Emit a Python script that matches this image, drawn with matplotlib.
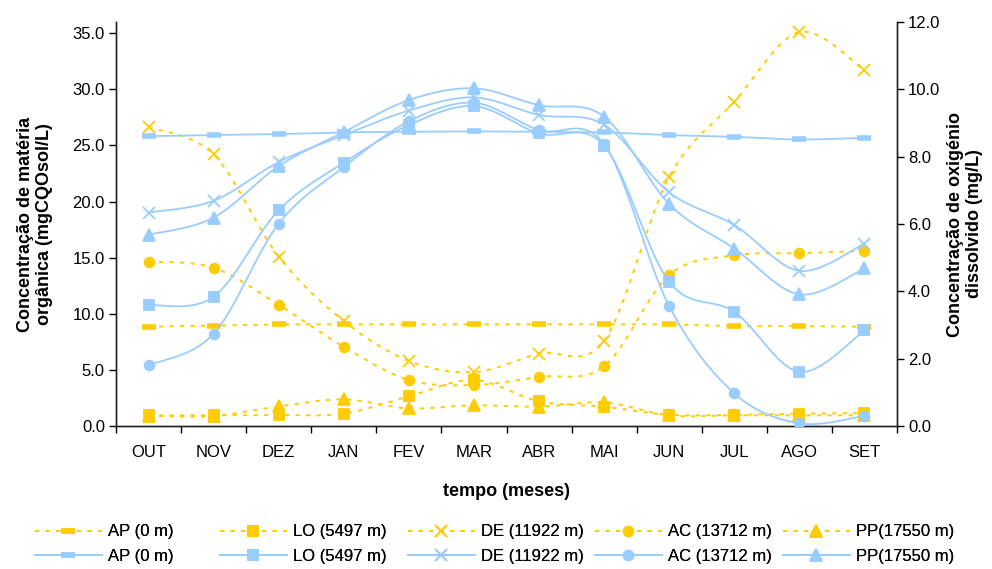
import numpy as np
import matplotlib
matplotlib.use("Agg")
import matplotlib.pyplot as plt
from matplotlib.lines import Line2D

plt.rcParams['font.family'] = ['Liberation Sans', 'DejaVu Sans']

months = ['OUT', 'NOV', 'DEZ', 'JAN', 'FEV', 'MAR', 'ABR', 'MAI', 'JUN', 'JUL', 'AGO', 'SET']
stations = ['AP (0 m)', 'LO (5497 m)', 'DE (11922 m)', 'AC (13712 m)', 'PP(17550 m)']

# materia organica (mgCQOsol/L) - eixo esquerdo
mo_ap = [8.85, 8.95, 9.05, 9.05, 9.05, 9.05, 9.05, 9.05, 9.05, 8.9, 8.9, 8.85]
mo_lo = [0.95, 0.95, 0.98, 1.1, 2.65, 4.1, 2.2, 1.72, 1.0, 1.0, 1.1, 1.15]
mo_de = [26.65, 24.2, 15.1, 9.36, 5.8, 4.8, 6.45, 7.6, 22.2, 28.9, 35.1, 31.7]
mo_ac = [14.65, 14.1, 10.8, 7.05, 4.1, 3.65, 4.38, 5.32, 13.45, 15.2, 15.4, 15.6]
mo_pp = [0.9, 0.9, 1.75, 2.37, 1.57, 1.85, 1.72, 2.1, 0.95, 0.95, 0.95, 0.95]

# oxigenio dissolvido (mg/L) - eixo direito
od_ap = [8.61, 8.64, 8.67, 8.72, 8.74, 8.75, 8.74, 8.72, 8.64, 8.59, 8.51, 8.56]
od_lo = [3.59, 3.84, 6.41, 7.82, 8.94, 9.5, 8.69, 8.33, 4.28, 3.39, 1.61, 2.84]
od_de = [6.34, 6.69, 7.84, 8.64, 9.37, 9.76, 9.24, 8.95, 6.94, 5.97, 4.61, 5.42]
od_ac = [1.80, 2.74, 6.01, 7.69, 9.05, 9.6, 8.79, 8.37, 3.56, 0.97, 0.08, 0.30]
od_pp = [5.68, 6.19, 7.72, 8.73, 9.68, 10.03, 9.53, 9.19, 6.59, 5.27, 3.91, 4.68]

YELLOW = '#FFCC00'
BLUE = '#99CCFF'
markers = ['_', 's', 'x', 'o', '^']
msizes = [10, 7, 9, 7, 8]


def smooth(y, n=24):
    # curva suave tipo Excel (Catmull-Rom em Bezier cubica)
    p = np.column_stack([np.arange(len(y)), y]).astype(float)
    ext = np.vstack([p[0], p, p[-1]])
    t = np.linspace(0, 1, n)[:, None]
    out = []
    for i in range(len(p) - 1):
        p0, p1, p2, p3 = ext[i], ext[i + 1], ext[i + 2], ext[i + 3]
        c1 = p1 + (p2 - p0) / 6.0
        c2 = p2 - (p3 - p1) / 6.0
        seg = ((1 - t) ** 3) * p1 + 3 * ((1 - t) ** 2) * t * c1 + 3 * (1 - t) * t ** 2 * c2 + t ** 3 * p2
        out.append(seg if i == 0 else seg[1:])
    out = np.vstack(out)
    return out[:, 0], out[:, 1]


fig = plt.figure(figsize=(9.92, 5.69), dpi=100)
ax = fig.add_axes([116 / 992, 1 - 426 / 569, (897 - 116) / 992, (426 - 22) / 569])
ax2 = ax.twinx()

x = np.arange(len(months))
dash = (0, (2.2, 3.2))
for serie, m, ms in zip([mo_ap, mo_lo, mo_de, mo_ac, mo_pp], markers, msizes):
    sx, sy = smooth(serie)
    ax.plot(sx, sy, color=YELLOW, lw=1.4, linestyle=dash, zorder=2)
    mew = 4 if m == '_' else 1.3
    ax.plot(x, serie, linestyle='none', marker=m, ms=ms, color=YELLOW, mew=mew, zorder=3)
for serie, m, ms in zip([od_ap, od_lo, od_de, od_ac, od_pp], markers, msizes):
    sx, sy = smooth(serie)
    ax2.plot(sx, sy, color=BLUE, lw=1.3, zorder=2)
    mew = 4 if m == '_' else 1.3
    ax2.plot(x, serie, linestyle='none', marker=m, ms=ms, color=BLUE, mew=mew, zorder=3)

ax.set_xlim(-0.5, 11.5)
ax.set_ylim(0, 36)
ax2.set_ylim(0, 12)
ax.set_yticks(np.arange(0, 36, 5))
ax.set_yticklabels(['%.1f' % v for v in np.arange(0, 36, 5)])
ax2.set_yticks(np.arange(0, 13, 2))
ax2.set_yticklabels(['%.1f' % v for v in np.arange(0, 13, 2)])

ax.set_xticks(x)
ax.set_xticklabels(months)
ax.set_xticks(np.arange(-0.5, 12, 1), minor=True)
ax.tick_params(axis='x', which='major', length=0, pad=14, labelsize=12)
ax.tick_params(axis='x', which='minor', length=5, width=1)
ax.tick_params(axis='y', length=5, width=1, labelsize=12, pad=3)
ax2.tick_params(axis='y', length=5, width=1, labelsize=12, pad=3)

for a in (ax, ax2):
    a.spines['top'].set_visible(False)
    for s in ('left', 'right', 'bottom'):
        a.spines[s].set_linewidth(1.0)
        a.spines[s].set_color('#222222')

ax.set_xlabel('tempo (meses)', fontsize=13, fontweight='bold', labelpad=16)
ax.set_ylabel('Concentração de matéria\norgânica (mgCQOsol/L)', fontsize=13,
              fontweight='bold', labelpad=14, linespacing=1.15)
ax2.set_ylabel('Concentração de oxigénio\ndissolvido (mg/L)', fontsize=13,
               fontweight='bold', labelpad=5, linespacing=1.15)

# legenda: uma coluna por estacao, amarelo em cima e azul em baixo
col_x = [35, 220, 408, 595, 783]
for name, m, ms, cx in zip(stations, markers, msizes, col_x):
    mew = 4 if m == '_' else 1.3
    hy = Line2D([], [], color=YELLOW, lw=1.4, linestyle=dash, marker=m, ms=ms, mew=mew)
    hb = Line2D([], [], color=BLUE, lw=1.3, marker=m, ms=ms, mew=mew)
    leg = fig.legend([hy, hb], [name, name], loc='center left',
                     bbox_to_anchor=(cx / 992, 1 - 544 / 569), frameon=False,
                     fontsize=12, handlelength=4.0, handletextpad=0.4,
                     labelspacing=0.55, borderpad=0, borderaxespad=0)
    fig.add_artist(leg)

fig.savefig('out.png', dpi=100)
